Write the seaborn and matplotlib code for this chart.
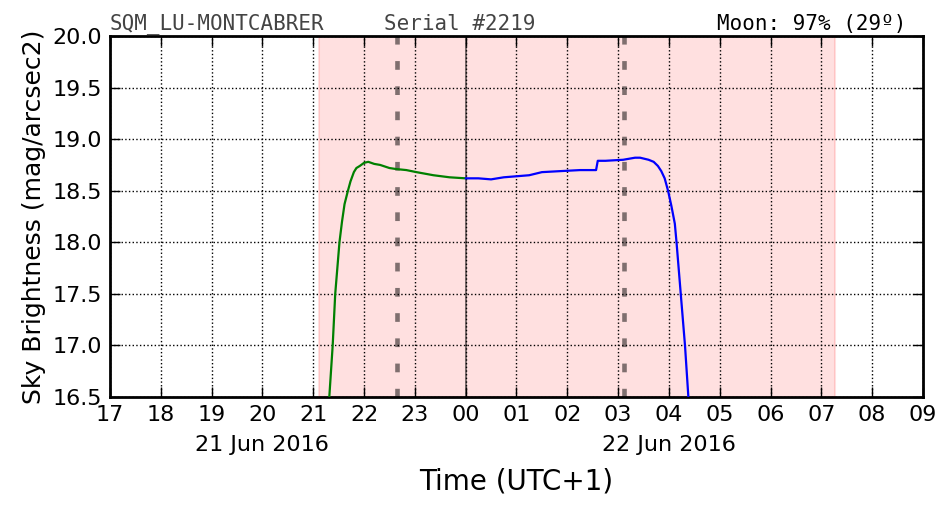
import pandas as pd
import numpy as np
import matplotlib
matplotlib.use('Agg')
import matplotlib.pyplot as plt
import matplotlib.dates as mdates
import seaborn as sns

# data
dusk_times = ['2016-06-21 21:19', '2016-06-21 21:21', '2016-06-21 21:23', '2016-06-21 21:26',
              '2016-06-21 21:29', '2016-06-21 21:31', '2016-06-21 21:34', '2016-06-21 21:37',
              '2016-06-21 21:41', '2016-06-21 21:44', '2016-06-21 21:48', '2016-06-21 21:51',
              '2016-06-21 21:55', '2016-06-21 22:00', '2016-06-21 22:05', '2016-06-21 22:12',
              '2016-06-21 22:19', '2016-06-21 22:30', '2016-06-21 22:38', '2016-06-21 22:50',
              '2016-06-21 23:02', '2016-06-21 23:22', '2016-06-21 23:41', '2016-06-22 00:00']
dusk_values = [16.50, 16.75, 17.00, 17.50, 17.80, 18.00, 18.20, 18.37, 18.50, 18.59,
               18.68, 18.72, 18.74, 18.77, 18.78, 18.76, 18.75, 18.72, 18.71, 18.70,
               18.68, 18.65, 18.63, 18.62]

dawn_times = ['2016-06-22 00:00', '2016-06-22 00:15', '2016-06-22 00:30', '2016-06-22 00:45',
              '2016-06-22 01:00', '2016-06-22 01:15', '2016-06-22 01:30', '2016-06-22 01:52',
              '2016-06-22 02:15', '2016-06-22 02:34', '2016-06-22 02:36', '2016-06-22 02:45',
              '2016-06-22 03:06', '2016-06-22 03:20', '2016-06-22 03:26', '2016-06-22 03:36',
              '2016-06-22 03:42', '2016-06-22 03:47', '2016-06-22 03:51', '2016-06-22 03:55',
              '2016-06-22 03:59', '2016-06-22 04:03', '2016-06-22 04:07', '2016-06-22 04:09',
              '2016-06-22 04:14', '2016-06-22 04:19', '2016-06-22 04:23']
dawn_values = [18.62, 18.62, 18.61, 18.63, 18.64, 18.65, 18.68, 18.69, 18.70, 18.70,
               18.79, 18.79, 18.80, 18.82, 18.82, 18.80, 18.78, 18.74, 18.69, 18.62,
               18.50, 18.35, 18.18, 18.00, 17.50, 17.00, 16.50]

night_span = ['2016-06-21 21:07', '2016-06-22 07:16']
astro_marks = ['2016-06-21 22:39', '2016-06-22 03:07']
midnight = '2016-06-22 00:00'
x_range = ['2016-06-21 17:00', '2016-06-22 09:00']
date_labels = ['21 Jun 2016', '22 Jun 2016']
date_label_pos = ['2016-06-21 20:00', '2016-06-22 04:00']

sns.set_style('ticks')
plt.rcParams['font.family'] = ['DejaVu Sans']
plt.rcParams['text.color'] = 'k'
plt.rcParams['axes.labelcolor'] = 'k'
plt.rcParams['xtick.color'] = 'k'
plt.rcParams['ytick.color'] = 'k'

dusk = pd.DataFrame({'time': pd.to_datetime(dusk_times), 'sb': dusk_values})
dawn = pd.DataFrame({'time': pd.to_datetime(dawn_times), 'sb': dawn_values})

fig = plt.figure(figsize=(9.52, 5.12), dpi=100)
ax = fig.add_axes([0.1155, 0.2246, 0.854, 0.7051])

ax.axvspan(pd.Timestamp(night_span[0]), pd.Timestamp(night_span[1]),
           color='red', alpha=0.12, lw=1.5, zorder=0)
for t in astro_marks:
    ax.axvline(pd.Timestamp(t), color='k', alpha=0.5, lw=3.3, dashes=(1.9, 3.6), zorder=1)
ax.axvline(pd.Timestamp(midnight), color='k', alpha=0.6, lw=1.2, zorder=1)

sns.lineplot(data=dusk, x='time', y='sb', color='green', lw=1.6, ax=ax, zorder=3)
sns.lineplot(data=dawn, x='time', y='sb', color='blue', lw=1.6, ax=ax, zorder=3)

ax.set_xlim(pd.Timestamp(x_range[0]), pd.Timestamp(x_range[1]))
ax.set_ylim(16.5, 20.0)
ax.set_yticks(np.arange(16.5, 20.01, 0.5))
ax.yaxis.set_major_formatter(matplotlib.ticker.FormatStrFormatter('%.1f'))
ax.xaxis.set_major_locator(mdates.HourLocator())
ax.xaxis.set_major_formatter(mdates.DateFormatter('%H'))

ax.grid(True, color='k', linestyle=':', lw=1)
ax.tick_params(direction='in', top=True, right=True, length=7, width=1,
               labelsize=16, pad=6)
for sp in ax.spines.values():
    sp.set_linewidth(2)
    sp.set_color('k')

for lab, pos in zip(date_labels, date_label_pos):
    ax.text(mdates.date2num(pd.Timestamp(pos)), -0.105, lab, transform=ax.get_xaxis_transform(),
            ha='center', va='top', fontsize=16)

ax.set_xlabel('Time (UTC+1)', fontsize=20, labelpad=30)
ax.set_ylabel('Sky Brightness (mag/arcsec2)', fontsize=18, labelpad=4)

ax.text(0.0, 1.005, 'SQM_LU-MONTCABRER', transform=ax.transAxes, ha='left', va='bottom',
        family='DejaVu Sans Mono', fontsize=15, color='#444444')
ax.text(0.337, 1.005, 'Serial #2219', transform=ax.transAxes, ha='left', va='bottom',
        family='DejaVu Sans Mono', fontsize=15, color='#444444')
ax.text(0.98, 1.005, 'Moon: 97% (29º)', transform=ax.transAxes, ha='right', va='bottom',
        family='DejaVu Sans Mono', fontsize=15, color='k')

fig.savefig('out.png', dpi=100)
